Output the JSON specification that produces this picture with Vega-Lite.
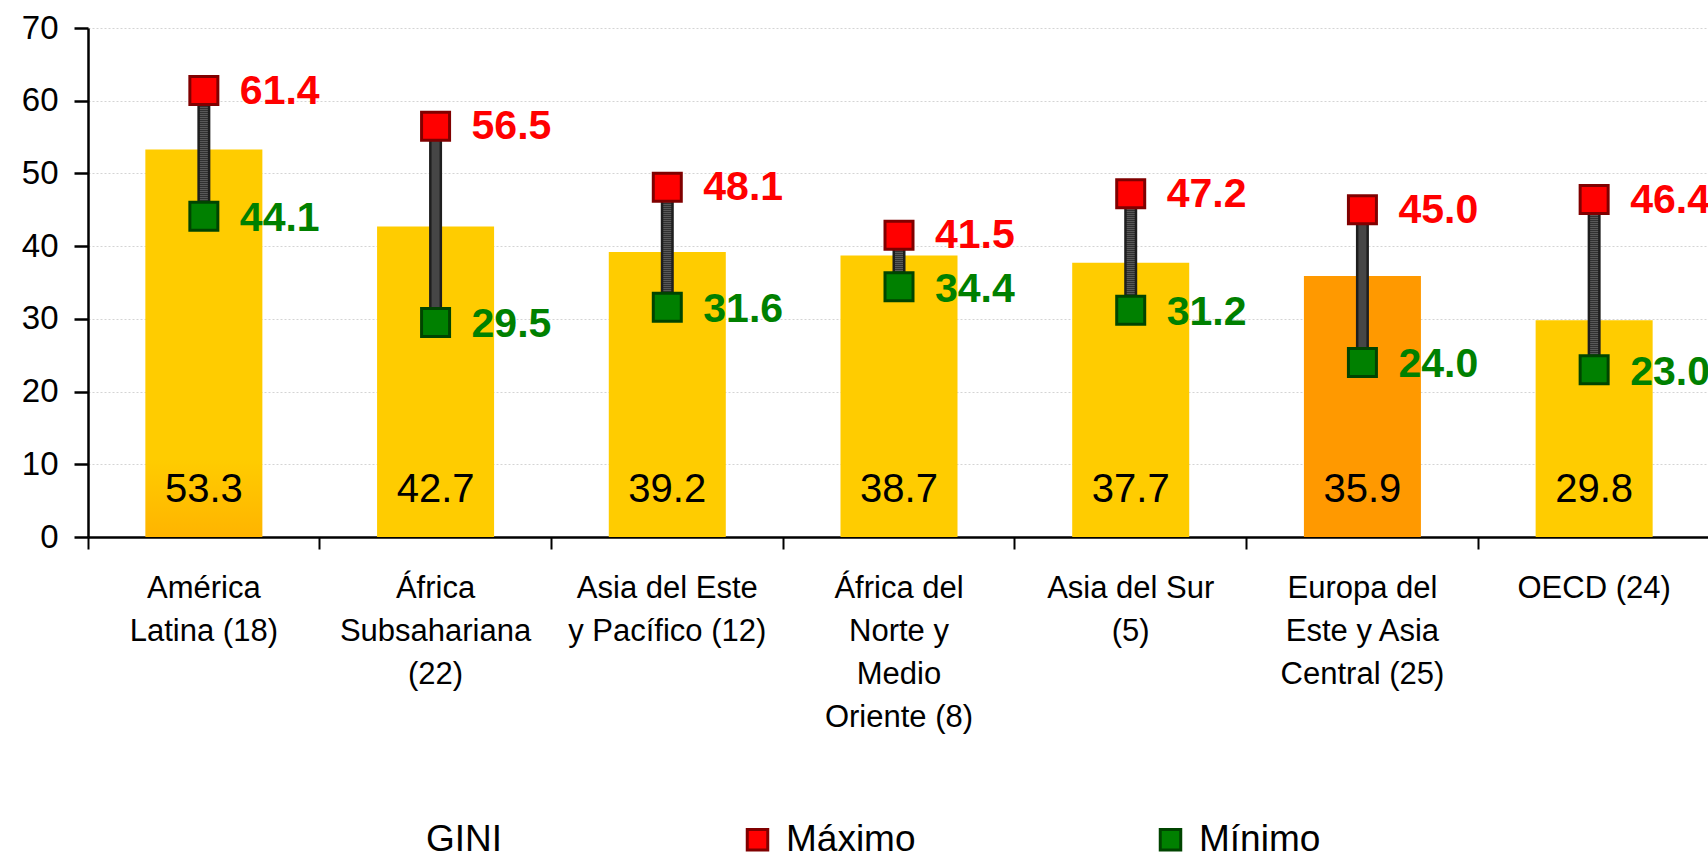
{
  "$schema": "https://vega.github.io/schema/vega-lite/v6.json",
  "autosize": {"type": "none"},
  "padding": {"left": 88, "top": 28, "right": 0, "bottom": 322},
  "width": 1622,
  "height": 509,
  "background": "white",
  "data": {
    "values": [
      {"region": "América\nLatina (18)", "gini": 53.3, "Máximo": 61.4, "Mínimo": 44.1},
      {"region": "África\nSubsahariana\n(22)", "gini": 42.7, "Máximo": 56.5, "Mínimo": 29.5},
      {"region": "Asia del Este\ny Pacífico (12)", "gini": 39.2, "Máximo": 48.1, "Mínimo": 31.6},
      {"region": "África del\nNorte y\nMedio\nOriente (8)", "gini": 38.7, "Máximo": 41.5, "Mínimo": 34.4},
      {"region": "Asia del Sur\n(5)", "gini": 37.7, "Máximo": 47.2, "Mínimo": 31.2},
      {"region": "Europa del\nEste y Asia\nCentral (25)", "gini": 35.9, "Máximo": 45.0, "Mínimo": 24.0},
      {"region": "OECD (24)", "gini": 29.8, "Máximo": 46.4, "Mínimo": 23.0}
    ]
  },
  "encoding": {
    "x": {
      "field": "region", "type": "nominal", "sort": null,
      "scale": {"paddingInner": 0, "paddingOuter": 0},
      "axis": {
        "title": null, "bandPosition": 0, "labelAngle": 0,
        "labelExpr": "split(datum.value, '\\n')",
        "labelFont": "Liberation Sans", "labelFontSize": 31, "labelColor": "#000",
        "labelLineHeight": 43, "labelPadding": 24, "labelBaseline": "top",
        "labelLimit": 0, "labelOverlap": false,
        "domainColor": "#000", "domainWidth": 2.5,
        "tickColor": "#000", "tickWidth": 2, "tickSize": 12, "grid": false
      }
    }
  },
  "layer": [
    {
      "mark": {"type": "bar", "width": {"band": 0.505}},
      "encoding": {
        "y": {
          "field": "gini", "type": "quantitative",
          "scale": {"domain": [0, 70], "nice": false},
          "axis": {
            "title": null, "values": [0, 10, 20, 30, 40, 50, 60, 70],
            "labelFont": "Liberation Sans", "labelFontSize": 33, "labelColor": "#000",
            "labelPadding": 16, "domainColor": "#000", "domainWidth": 2.5,
            "tickColor": "#000", "tickWidth": 2.5, "tickSize": 14,
            "grid": true, "gridColor": "#d4d4d4", "gridDash": [2, 2], "gridWidth": 1
          }
        },
        "color": {
          "condition": [
            {"test": "indexof(datum.region, 'Europa') >= 0", "value": "#FF9900"},
            {"test": "indexof(datum.region, 'América') >= 0", "value": {"gradient": "linear", "x1": 0, "y1": 0, "x2": 0, "y2": 1, "stops": [{"offset": 0, "color": "#FFCC00"}, {"offset": 0.8, "color": "#FFCC00"}, {"offset": 1, "color": "#FFB400"}]}}
          ],
          "value": "#FFCC00"
        }
      }
    },
    {
      "mark": {"type": "text", "font": "Liberation Sans", "fontSize": 40, "color": "#000", "baseline": "middle", "align": "center"},
      "encoding": {
        "y": {"datum": 6.4, "type": "quantitative"},
        "text": {"field": "gini", "type": "quantitative", "format": ".1f"}
      }
    },
    {
      "mark": {"type": "rule", "color": "#1e1e1e", "strokeWidth": 13},
      "encoding": {
        "y": {"field": "Mínimo", "type": "quantitative"},
        "y2": {"field": "Máximo"}
      }
    },
    {
      "mark": {"type": "rule", "color": "#6e6e6e", "strokeWidth": 8, "strokeDash": [1, 1]},
      "encoding": {
        "y": {"field": "Mínimo", "type": "quantitative"},
        "y2": {"field": "Máximo"}
      }
    },
    {
      "transform": [{"fold": ["Máximo", "Mínimo"], "as": ["key", "value"]}],
      "mark": {"type": "point", "shape": "square", "filled": true, "size": 784, "strokeWidth": 3, "opacity": 1},
      "encoding": {
        "y": {"field": "value", "type": "quantitative"},
        "fill": {
          "field": "key", "type": "nominal",
          "scale": {"domain": ["GINI", "Máximo", "Mínimo"], "range": ["rgba(0,0,0,0)", "#FF0000", "#008000"]},
          "legend": {"title": null}
        },
        "stroke": {
          "field": "key", "type": "nominal",
          "scale": {"domain": ["GINI", "Máximo", "Mínimo"], "range": ["rgba(0,0,0,0)", "#800000", "#004400"]},
          "legend": {"title": null}
        }
      }
    },
    {
      "mark": {"type": "text", "font": "Liberation Sans", "fontSize": 41, "fontWeight": "bold", "color": "#FF0000", "align": "left", "baseline": "middle", "dx": 36, "dy": 1},
      "encoding": {
        "y": {"field": "Máximo", "type": "quantitative"},
        "text": {"field": "Máximo", "type": "quantitative", "format": ".1f"}
      }
    },
    {
      "mark": {"type": "text", "font": "Liberation Sans", "fontSize": 41, "fontWeight": "bold", "color": "#008000", "align": "left", "baseline": "middle", "dx": 36, "dy": 3},
      "encoding": {
        "y": {"field": "Mínimo", "type": "quantitative"},
        "text": {"field": "Mínimo", "type": "quantitative", "format": ".1f"}
      }
    }
  ],
  "config": {
    "view": {"stroke": null},
    "legend": {
      "orient": "none", "legendX": 291, "legendY": 793, "direction": "horizontal",
      "columnPadding": 236, "symbolType": "square", "symbolSize": 420, "symbolStrokeWidth": 3,
      "labelFont": "Liberation Sans", "labelFontSize": 37, "labelColor": "#000", "labelOffset": 10,
      "labelLimit": 0
    }
  }
}
